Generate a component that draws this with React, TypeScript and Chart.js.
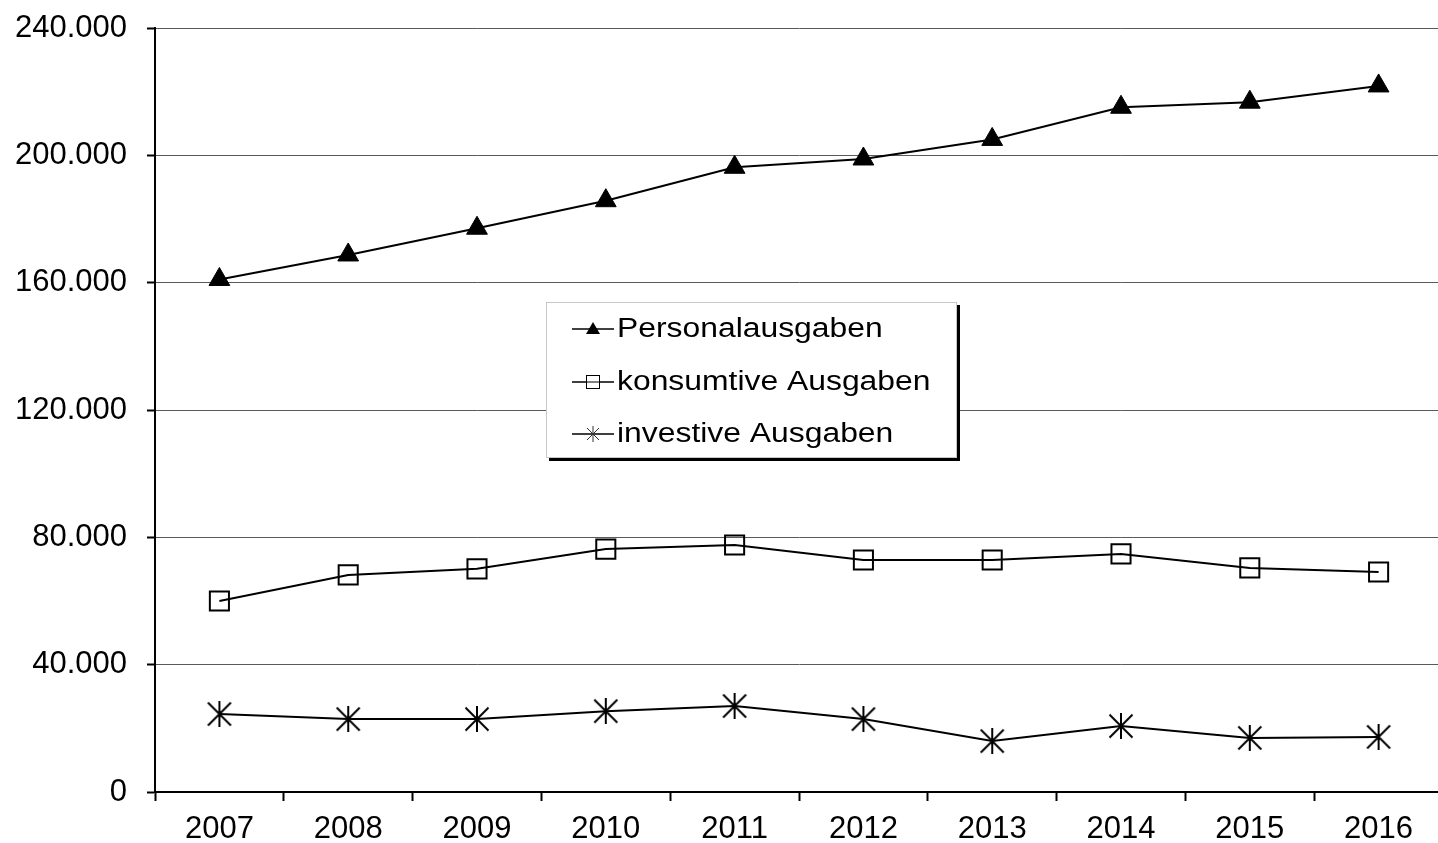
import React, { useEffect, useRef } from 'react';
import { Chart, registerables } from 'chart.js';

Chart.register(...registerables);

const years = ['2007', '2008', '2009', '2010', '2011', '2012', '2013', '2014', '2015', '2016'];
const personalausgaben = [161000, 168700, 177100, 185750, 196250, 198850, 205000, 215100, 216700, 221800];
const konsumtiveAusgaben = [60000, 68200, 70100, 76300, 77600, 72900, 72900, 74800, 70400, 69100];
const investiveAusgaben = [24500, 22900, 22900, 25400, 27000, 22900, 16000, 20700, 17000, 17300];
const seriesLabels = ['Personalausgaben', 'konsumtive Ausgaben', 'investive Ausgaben'];
const yMin = 0;
const yMax = 240000;
const yStep = 40000;

const FONT = "'Liberation Sans', Arial, sans-serif";

function formatDe(v: number): string {
  return String(Math.round(v)).replace(/\B(?=(\d{3})+(?!\d))/g, '.');
}

function makeAsterisk(size: number, lw: number, color: string): HTMLCanvasElement {
  const c = document.createElement('canvas');
  c.width = size;
  c.height = size;
  const g = c.getContext('2d')!;
  g.strokeStyle = color;
  g.lineWidth = lw;
  const p = 1.5;
  g.beginPath();
  g.moveTo(p, p);
  g.lineTo(size - p, size - p);
  g.moveTo(size - p, p);
  g.lineTo(p, size - p);
  g.moveTo(size / 2, 0);
  g.lineTo(size / 2, size);
  g.stroke();
  return c;
}

export default function App() {
  const canvasRef = useRef<HTMLCanvasElement | null>(null);

  useEffect(() => {
    document.body.style.margin = '0';
    const canvas = canvasRef.current!;
    const star = makeAsterisk(26, 2, '#000');

    const legendPlugin = {
      id: 'boxLegend',
      afterDraw(chart: any) {
        const ctx = chart.ctx as CanvasRenderingContext2D;
        const bx = 546, by = 302, bw = 411, bh = 156;
        ctx.save();
        ctx.fillStyle = '#000';
        ctx.fillRect(bx + 3, by + 3, bw, bh);
        ctx.fillStyle = '#fff';
        ctx.fillRect(bx, by, bw, bh);
        ctx.strokeStyle = '#c8c8c8';
        ctx.lineWidth = 1;
        ctx.strokeRect(bx + 0.5, by + 0.5, bw - 1, bh - 1);
        const rows = [329, 382, 434];
        const x0 = 572, x1 = 614, mx = 593;
        chart.data.datasets.forEach((ds: any, i: number) => {
          const y = rows[i];
          ctx.strokeStyle = '#000';
          ctx.lineWidth = 1.5;
          ctx.beginPath();
          ctx.moveTo(x0, y);
          ctx.lineTo(x1, y);
          ctx.stroke();
          if (i === 0) {
            ctx.fillStyle = '#000';
            ctx.beginPath();
            ctx.moveTo(mx, y - 7);
            ctx.lineTo(mx + 7, y + 5);
            ctx.lineTo(mx - 7, y + 5);
            ctx.closePath();
            ctx.fill();
          } else if (i === 1) {
            ctx.fillStyle = '#fff';
            ctx.fillRect(mx - 7, y - 6, 14, 12);
            ctx.strokeStyle = '#000';
            ctx.lineWidth = 1;
            ctx.strokeRect(mx - 6.5, y - 6.5, 13, 13);
            ctx.beginPath();
            ctx.moveTo(mx - 7, y);
            ctx.lineTo(mx + 7, y);
            ctx.stroke();
          } else {
            ctx.strokeStyle = '#333';
            ctx.lineWidth = 1;
            ctx.beginPath();
            ctx.moveTo(mx - 6, y - 6);
            ctx.lineTo(mx + 6, y + 6);
            ctx.moveTo(mx + 6, y - 6);
            ctx.lineTo(mx - 6, y + 6);
            ctx.moveTo(mx, y - 8);
            ctx.lineTo(mx, y + 8);
            ctx.stroke();
          }
          ctx.save();
          ctx.translate(617, y + 1);
          ctx.scale(1.18, 1);
          ctx.fillStyle = '#000';
          ctx.font = `27px ${FONT}`;
          ctx.textBaseline = 'middle';
          ctx.textAlign = 'left';
          ctx.fillText(ds.label, 0, 0);
          ctx.restore();
        });
        ctx.restore();
      },
    };

    const chart = new Chart(canvas, {
      type: 'line',
      data: {
        labels: years,
        datasets: [
          {
            label: seriesLabels[0],
            data: personalausgaben,
            borderColor: '#000',
            borderWidth: 2,
            pointStyle: 'triangle',
            pointRadius: 12,
            pointBackgroundColor: '#000',
            pointBorderColor: '#000',
            pointBorderWidth: 1,
            tension: 0,
          },
          {
            label: seriesLabels[1],
            data: konsumtiveAusgaben,
            borderColor: '#000',
            borderWidth: 2,
            pointStyle: 'rect',
            pointRadius: 13.5,
            pointBackgroundColor: 'rgba(0,0,0,0)',
            pointBorderColor: '#000',
            pointBorderWidth: 2,
            tension: 0,
          },
          {
            label: seriesLabels[2],
            data: investiveAusgaben,
            borderColor: '#000',
            borderWidth: 2,
            pointStyle: star as any,
            pointRadius: 13,
            tension: 0,
          },
        ],
      },
      options: {
        responsive: false,
        animation: false,
        devicePixelRatio: 1,
        layout: { autoPadding: false, padding: { top: 28, right: 3, left: 0, bottom: 0 } },
        plugins: {
          legend: { display: false },
          tooltip: { enabled: false },
          title: { display: false },
        },
        scales: {
          x: {
            offset: true,
            grid: {
              offset: true,
              drawOnChartArea: false,
              tickLength: 9,
              tickColor: '#000',
              tickWidth: 2,
            },
            border: { color: '#000', width: 2 },
            ticks: {
              font: { family: FONT, size: 31 },
              color: '#000',
              padding: 10,
              maxRotation: 0,
              autoSkip: false,
            },
            afterFit: (s: any) => {
              s.height = 51;
              s.paddingLeft = 0;
              s.paddingRight = 0;
            },
          },
          y: {
            min: yMin,
            max: yMax,
            grid: {
              color: '#5a5a5a',
              lineWidth: 1,
              tickLength: 8,
              tickColor: '#000',
              tickWidth: 2,
            },
            border: { color: '#000', width: 2 },
            ticks: {
              stepSize: yStep,
              font: { family: FONT, size: 31 },
              color: '#000',
              padding: 20,
              callback: (v: any) => formatDe(Number(v)),
            },
            afterFit: (s: any) => {
              s.width = 155;
              s.paddingTop = 0;
              s.paddingBottom = 0;
            },
          },
        },
      },
      plugins: [legendPlugin],
    });

    return () => {
      chart.destroy();
    };
  }, []);

  return (
    <div style={{ width: 1438, height: 843, overflow: 'hidden', background: '#fff' }}>
      <canvas ref={canvasRef} width={1446} height={843} style={{ display: 'block' }} />
    </div>
  );
}
